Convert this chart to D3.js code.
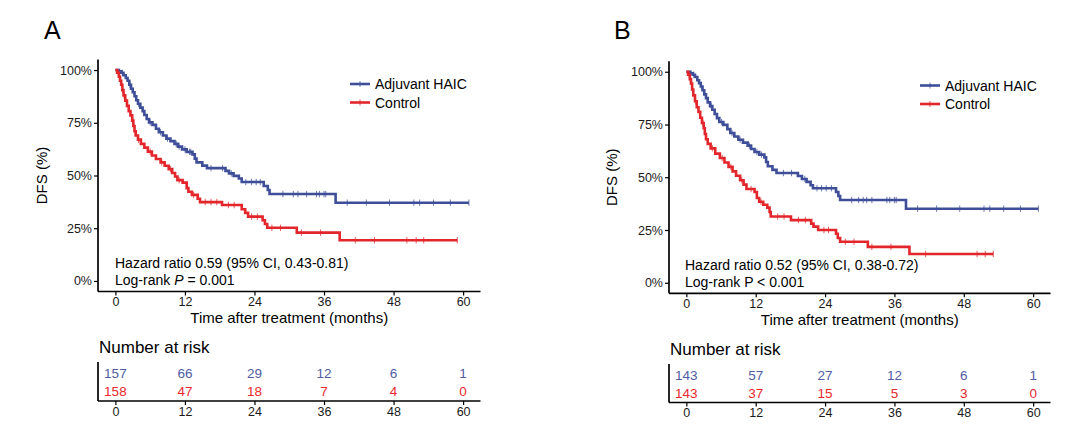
<!DOCTYPE html>
<html>
<head>
<meta charset="utf-8">
<script src="https://cdn.jsdelivr.net/npm/d3@7"></script>
<style>
  html, body { margin: 0; padding: 0; background: #fff; }
  svg { display: block; font-family: "Liberation Sans", Arial, sans-serif; }
</style>
</head>
<body>
<svg id="chart" width="1080" height="446"></svg>
<script>
// ---------- data ----------
const monthTicks = [0, 12, 24, 36, 48, 60];
const survTicks = [0, 0.25, 0.5, 0.75, 1];
const survTickLabels = ["0%", "25%", "50%", "75%", "100%"];
const seriesNames = ["Adjuvant HAIC", "Control"];

// Panel A – Adjuvant HAIC (event times in months, survival after step)
const aHaicTime = [0, 0.6, 1.0, 1.4, 1.8, 2.1, 2.4, 2.7, 3.0, 3.3, 3.6, 3.9, 4.3, 4.7, 5.0, 5.4, 5.8, 6.4, 7.0, 7.5, 8.2, 8.8, 9.5, 10.2, 10.8, 11.5, 12.3, 13.3, 13.7, 14.0, 15.0, 15.8, 19.0, 19.6, 20.4, 21.3, 21.8, 25.6, 26.3, 26.6, 38.0];
const aHaicSurv = [1, 0.994, 0.987, 0.975, 0.962, 0.949, 0.930, 0.911, 0.895, 0.876, 0.857, 0.840, 0.822, 0.805, 0.787, 0.768, 0.752, 0.740, 0.722, 0.705, 0.690, 0.675, 0.663, 0.650, 0.637, 0.624, 0.612, 0.600, 0.580, 0.562, 0.547, 0.535, 0.522, 0.510, 0.498, 0.486, 0.469, 0.450, 0.431, 0.412, 0.371];
const aHaicCensor = [1.2, 2.5, 4.0, 6.0, 7.8, 9.0, 10.5, 11.0, 12.0, 12.8, 13.0, 16.5, 18.5, 20.0, 22.5, 23.5, 24.3, 25.0, 28.9, 30.7, 31.5, 33.0, 34.7, 35.2, 36.0, 36.3, 40.0, 43.3, 47.3, 51.5, 52.5, 54.9, 57.8, 61.0];

// Panel A – Control
const aCtrlTime = [0, 0.3, 0.6, 0.8, 1.0, 1.2, 1.4, 1.7, 2.0, 2.3, 2.6, 2.9, 3.1, 3.3, 3.5, 3.9, 4.4, 5.0, 5.6, 6.3, 7.0, 7.8, 8.5, 9.2, 9.8, 10.3, 10.7, 11.6, 12.3, 12.6, 13.2, 14.2, 14.6, 18.4, 21.8, 22.4, 22.9, 25.4, 25.8, 26.2, 31.3, 38.7];
const aCtrlSurv = [1, 0.987, 0.968, 0.949, 0.930, 0.905, 0.880, 0.855, 0.830, 0.805, 0.785, 0.760, 0.735, 0.710, 0.690, 0.670, 0.650, 0.632, 0.613, 0.595, 0.578, 0.562, 0.546, 0.530, 0.512, 0.495, 0.478, 0.466, 0.440, 0.423, 0.408, 0.390, 0.374, 0.360, 0.340, 0.323, 0.305, 0.288, 0.270, 0.252, 0.229, 0.193];
const aCtrlCensor = [0.5, 1.5, 3.0, 4.0, 6.0, 8.0, 9.5, 11.0, 13.5, 15.5, 16.5, 17.5, 19.5, 20.5, 23.5, 24.5, 27.0, 28.5, 32.1, 35.4, 41.4, 44.7, 50.3, 51.9, 53.2, 59.0];

// Panel B – Adjuvant HAIC
const bHaicTime = [0, 0.7, 1.1, 1.5, 1.9, 2.2, 2.5, 2.8, 3.1, 3.4, 3.7, 4.1, 4.5, 4.9, 5.3, 5.7, 6.4, 7.1, 7.6, 8.3, 9.0, 9.8, 10.6, 11.2, 11.8, 12.6, 13.5, 13.8, 14.1, 14.9, 15.6, 19.3, 20.0, 20.8, 21.5, 21.9, 25.9, 26.3, 26.6, 38.0];
const bHaicSurv = [1, 0.993, 0.986, 0.975, 0.960, 0.946, 0.930, 0.912, 0.893, 0.875, 0.855, 0.837, 0.820, 0.800, 0.780, 0.762, 0.748, 0.728, 0.710, 0.693, 0.678, 0.664, 0.650, 0.634, 0.620, 0.607, 0.594, 0.572, 0.552, 0.535, 0.520, 0.506, 0.492, 0.478, 0.462, 0.448, 0.430, 0.411, 0.392, 0.351];
const bHaicCensor = [1.3, 2.6, 4.3, 6.1, 7.9, 9.3, 10.9, 12.2, 13.0, 16.8, 18.2, 20.5, 22.6, 23.4, 24.2, 25.1, 28.6, 29.8, 30.6, 31.2, 32.1, 34.7, 35.2, 36.0, 36.3, 40.0, 43.3, 47.3, 51.5, 52.5, 54.9, 57.8, 60.9];

// Panel B – Control
const bCtrlTime = [0, 0.3, 0.6, 0.8, 1.0, 1.2, 1.5, 1.8, 2.1, 2.4, 2.7, 3.0, 3.2, 3.4, 3.7, 4.2, 5.0, 5.8, 6.6, 7.3, 8.0, 8.6, 9.3, 9.9, 10.4, 11.8, 12.2, 12.6, 13.3, 14.0, 14.4, 14.6, 18.1, 21.6, 22.0, 22.8, 25.9, 26.2, 26.6, 31.4, 38.6];
const bCtrlSurv = [1, 0.986, 0.965, 0.944, 0.916, 0.888, 0.860, 0.832, 0.810, 0.782, 0.757, 0.732, 0.705, 0.680, 0.658, 0.637, 0.612, 0.591, 0.570, 0.549, 0.528, 0.507, 0.486, 0.465, 0.444, 0.430, 0.402, 0.384, 0.370, 0.356, 0.335, 0.314, 0.297, 0.280, 0.266, 0.250, 0.232, 0.212, 0.194, 0.170, 0.136];
const bCtrlCensor = [0.5, 1.6, 2.9, 4.5, 6.2, 7.7, 9.6, 11.2, 12.9, 15.8, 16.9, 19.4, 20.6, 23.8, 24.6, 27.5, 29.0, 32.1, 35.4, 41.4, 50.3, 51.7, 53.1];

// Numbers at risk at monthTicks
const aHaicRisk = [157, 66, 29, 12, 6, 1];
const aCtrlRisk = [158, 47, 18, 7, 4, 0];
const bHaicRisk = [143, 57, 27, 12, 6, 1];
const bCtrlRisk = [143, 37, 15, 5, 3, 0];

const panelLetters = ["A", "B"];
const hrTexts = ["Hazard ratio 0.59 (95% CI, 0.43-0.81)", "Hazard ratio 0.52 (95% CI, 0.38-0.72)"];
const pTexts = [["Log-rank ", "P", " = 0.001"], ["Log-rank P < 0.001", "", ""]];
const pItalic = [true, false];

// ---------- styling / layout ----------
const BLUE = "#3E4E98";
const RED = "#E3262B";
const BLUE_TXT = "#4F5DA3";
const RED_TXT = "#E8282D";
const colors = [BLUE, RED];
const txtColors = [BLUE_TXT, RED_TXT];
const FONT = '"Liberation Sans", Arial, sans-serif';

const layouts = [
  { x0: 98, x1: 480.5, y0: 291.5, y1: 59.5, letterX: 44, legX: 350, legY: [84, 102.5], annX: 115, annY: [268, 285],
    yTitleX: 47, xTitleY: 323, tTitleY: 353, tTop: 362, tRows: [377.5, 395.5], tAxis: 401, tLab: 416 },
  { x0: 669, x1: 1050.5, y0: 293.3, y1: 61.2, letterX: 614, legX: 920, legY: [85.5, 104], annX: 685, annY: [270, 286.5],
    yTitleX: 617, xTitleY: 324.5, tTitleY: 354.5, tTop: 364, tRows: [379.5, 397.5], tAxis: 402.5, tLab: 417.5 }
];

const panelSeries = [
  [ { t: aHaicTime, s: aHaicSurv, c: aHaicCensor, risk: aHaicRisk },
    { t: aCtrlTime, s: aCtrlSurv, c: aCtrlCensor, risk: aCtrlRisk } ],
  [ { t: bHaicTime, s: bHaicSurv, c: bHaicCensor, risk: bHaicRisk },
    { t: bCtrlTime, s: bCtrlSurv, c: bCtrlCensor, risk: bCtrlRisk } ]
];

const svg = d3.select("#chart");

function survAt(ser, t) {
  let v = ser.s[0];
  for (let i = 0; i < ser.t.length; i++) { if (ser.t[i] <= t) v = ser.s[i]; }
  return v;
}

panelLetters.forEach((letter, pi) => {
  const L = layouts[pi];
  const g = svg.append("g");
  const x = d3.scaleLinear().domain([-3, 63]).range([L.x0, L.x1]);
  const y = d3.scaleLinear().domain([-0.05, 1.05]).range([L.y0, L.y1]);

  // panel letter
  g.append("text").attr("x", L.letterX).attr("y", 39).attr("font-size", 25)
    .attr("fill", "#000").text(letter);

  // axes
  const yAxis = d3.axisLeft(y).tickValues(survTicks).tickSize(4).tickPadding(2)
    .tickFormat((d, i) => survTickLabels[i]);
  const ya = g.append("g").attr("transform", `translate(${L.x0},0)`).call(yAxis);
  const xAxis = d3.axisBottom(x).tickValues(monthTicks).tickSize(4).tickPadding(1.5);
  const xa = g.append("g").attr("transform", `translate(0,${L.y0})`).call(xAxis);
  [ya, xa].forEach(a => {
    a.select(".domain").attr("stroke", "#000").attr("stroke-width", 1.7);
    a.selectAll(".tick line").attr("stroke", "#000").attr("stroke-width", 1.2);
    a.selectAll(".tick text").attr("font-size", 12.5).attr("font-family", FONT).attr("fill", "#1a1a1a");
  });
  ya.select(".domain").attr("d", `M0,${L.y1}V${L.y0}`);
  xa.select(".domain").attr("d", `M${L.x0},0H${L.x1}`);

  // axis titles
  g.append("text").attr("transform", `translate(${L.yTitleX},${(L.y0 + L.y1) / 2}) rotate(-90)`)
    .attr("text-anchor", "middle").attr("font-size", 15).text("DFS (%)");
  g.append("text").attr("x", (L.x0 + L.x1) / 2).attr("y", L.xTitleY)
    .attr("text-anchor", "middle").attr("font-size", 15).text("Time after treatment (months)");

  // curves
  const line = d3.line().x(d => x(d[0])).y(d => y(d[1])).curve(d3.curveStepAfter);
  panelSeries[pi].forEach((ser, si) => {
    const end = d3.max(ser.c);
    const pts = ser.t.map((t, i) => [t, ser.s[i]]);
    pts.push([end, ser.s[ser.s.length - 1]]);
    g.append("path").datum(pts).attr("d", line).attr("fill", "none")
      .attr("stroke", colors[si]).attr("stroke-width", 2.6).attr("stroke-linejoin", "miter");
    g.selectAll(null).data(ser.c).enter().append("line")
      .attr("x1", d => x(d)).attr("x2", d => x(d))
      .attr("y1", d => y(survAt(ser, d)) - 3.2).attr("y2", d => y(survAt(ser, d)) + 3.2)
      .attr("stroke", colors[si]).attr("stroke-width", 1).attr("opacity", 0.75);
  });

  // legend
  seriesNames.forEach((name, si) => {
    const ly = L.legY[si];
    g.append("line").attr("x1", L.legX).attr("x2", L.legX + 20).attr("y1", ly).attr("y2", ly)
      .attr("stroke", colors[si]).attr("stroke-width", 2.6);
    g.append("line").attr("x1", L.legX + 10).attr("x2", L.legX + 10).attr("y1", ly - 3).attr("y2", ly + 3)
      .attr("stroke", colors[si]).attr("stroke-width", 1).attr("opacity", 0.75);
    g.append("text").attr("x", L.legX + 25).attr("y", ly + 5).attr("font-size", 14).text(name);
  });

  // annotation
  g.append("text").attr("x", L.annX).attr("y", L.annY[0]).attr("font-size", 14).text(hrTexts[pi]);
  const pt = g.append("text").attr("x", L.annX).attr("y", L.annY[1]).attr("font-size", 14);
  pt.append("tspan").text(pTexts[pi][0]);
  if (pTexts[pi][1]) pt.append("tspan").attr("font-style", pItalic[pi] ? "italic" : "normal").text(pTexts[pi][1]);
  if (pTexts[pi][2]) pt.append("tspan").text(pTexts[pi][2]);

  // number at risk table
  g.append("text").attr("x", L.x0 + 1).attr("y", L.tTitleY).attr("font-size", 17).text("Number at risk");
  g.append("line").attr("x1", L.x0).attr("x2", L.x0).attr("y1", L.tTop).attr("y2", L.tAxis)
    .attr("stroke", "#000").attr("stroke-width", 1.7);
  const tAxis = d3.axisBottom(x).tickValues(monthTicks).tickSize(4).tickPadding(2);
  const ta = g.append("g").attr("transform", `translate(0,${L.tAxis})`).call(tAxis);
  ta.select(".domain").attr("d", `M${L.x0},0H${L.x1}`).attr("stroke", "#000").attr("stroke-width", 1.7);
  ta.selectAll(".tick line").attr("stroke", "#000").attr("stroke-width", 1.2);
  ta.selectAll(".tick text").attr("font-size", 12.5).attr("font-family", FONT).attr("fill", "#1a1a1a");
  panelSeries[pi].forEach((ser, si) => {
    g.selectAll(null).data(monthTicks).enter().append("text")
      .attr("x", d => x(d)).attr("y", L.tRows[si]).attr("text-anchor", "middle")
      .attr("font-size", 13.5).attr("fill", txtColors[si])
      .text((d, i) => ser.risk[i]);
  });
});
</script>
</body>
</html>
